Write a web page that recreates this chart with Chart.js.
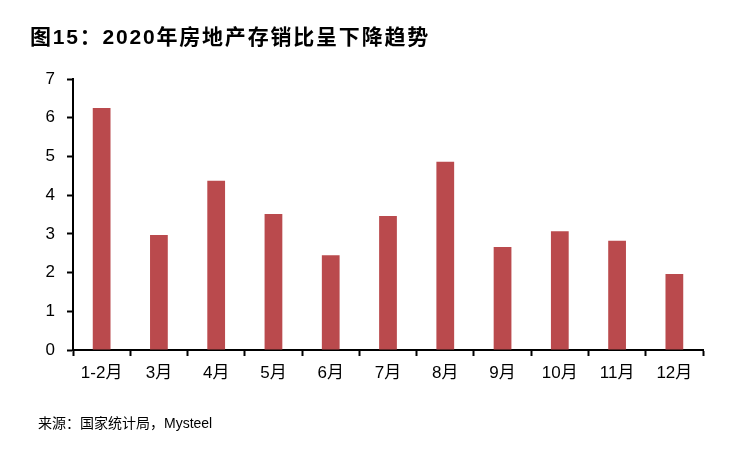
<!DOCTYPE html>
<html>
<head>
<meta charset="utf-8">
<script src="https://cdn.jsdelivr.net/npm/chart.js@4/dist/chart.umd.min.js"></script>
<style>
  body { margin: 0; background: #fff; }
  #wrap { position: relative; width: 750px; height: 450px; }
  #title {
    position: absolute; left: 30px; top: 20px;
    font: bold 21px "Liberation Sans", "Noto Sans CJK SC", sans-serif;
    letter-spacing: 1.8px; color: #000; white-space: nowrap;
  }
  #source {
    position: absolute; left: 38px; top: 412px;
    font: 14px "Liberation Sans", "Noto Sans CJK SC", sans-serif;
    color: #000; white-space: nowrap;
  }
  canvas { position: absolute; left: 0; top: 0; }
</style>
</head>
<body>
<div id="wrap">
  <canvas id="stockChart" width="750" height="450"></canvas>
  <div id="title">图15：2020年房地产存销比呈下降趋势</div>
  <div id="source">来源：国家统计局，Mysteel</div>
</div>
<script>
// 存销比 (months)
const months = ['1-2月', '3月', '4月', '5月', '6月', '7月', '8月', '9月', '10月', '11月', '12月'];
const ratio = [6.25, 2.97, 4.37, 3.51, 2.45, 3.46, 4.86, 2.66, 3.07, 2.82, 1.96];
const yTicks = [0, 1, 2, 3, 4, 5, 6, 7];

const tickFont = { family: '"Liberation Sans", "Noto Sans CJK SC", sans-serif', size: 17 };

const ctx = document.getElementById('stockChart').getContext('2d');
new Chart(ctx, {
    type: 'bar',
    data: {
        labels: months,
        datasets: [{
            data: ratio,
            backgroundColor: '#BA4A4D',
            barPercentage: 0.31,
            categoryPercentage: 1,
        }],
    },
    options: {
        responsive: false,
        animation: false,
        layout: { padding: { left: 33, right: 47, top: 79, bottom: 60 } },
        plugins: {
            legend: { display: false },
            tooltip: { enabled: false },
        },
        scales: {
            x: {
                afterFit(scale) { scale.height = 40; },
                grid: {
                    offset: true,
                    drawOnChartArea: false,
                    tickLength: 6,
                    tickWidth: 2,
                    color: '#000',
                },
                border: { color: '#000', width: 2 },
                ticks: { color: '#000', font: tickFont, padding: 7, maxRotation: 0 },
            },
            y: {
                min: 0,
                max: 7,
                afterFit(scale) { scale.width = 40; },
                afterBuildTicks(scale) { scale.ticks = yTicks.map(v => ({ value: v })); },
                grid: {
                    drawOnChartArea: false,
                    tickLength: 6,
                    tickWidth: 2,
                    color: '#000',
                },
                border: { color: '#000', width: 2 },
                ticks: { color: '#000', font: tickFont, padding: 12 },
            },
        },
    },
});
</script>
</body>
</html>
